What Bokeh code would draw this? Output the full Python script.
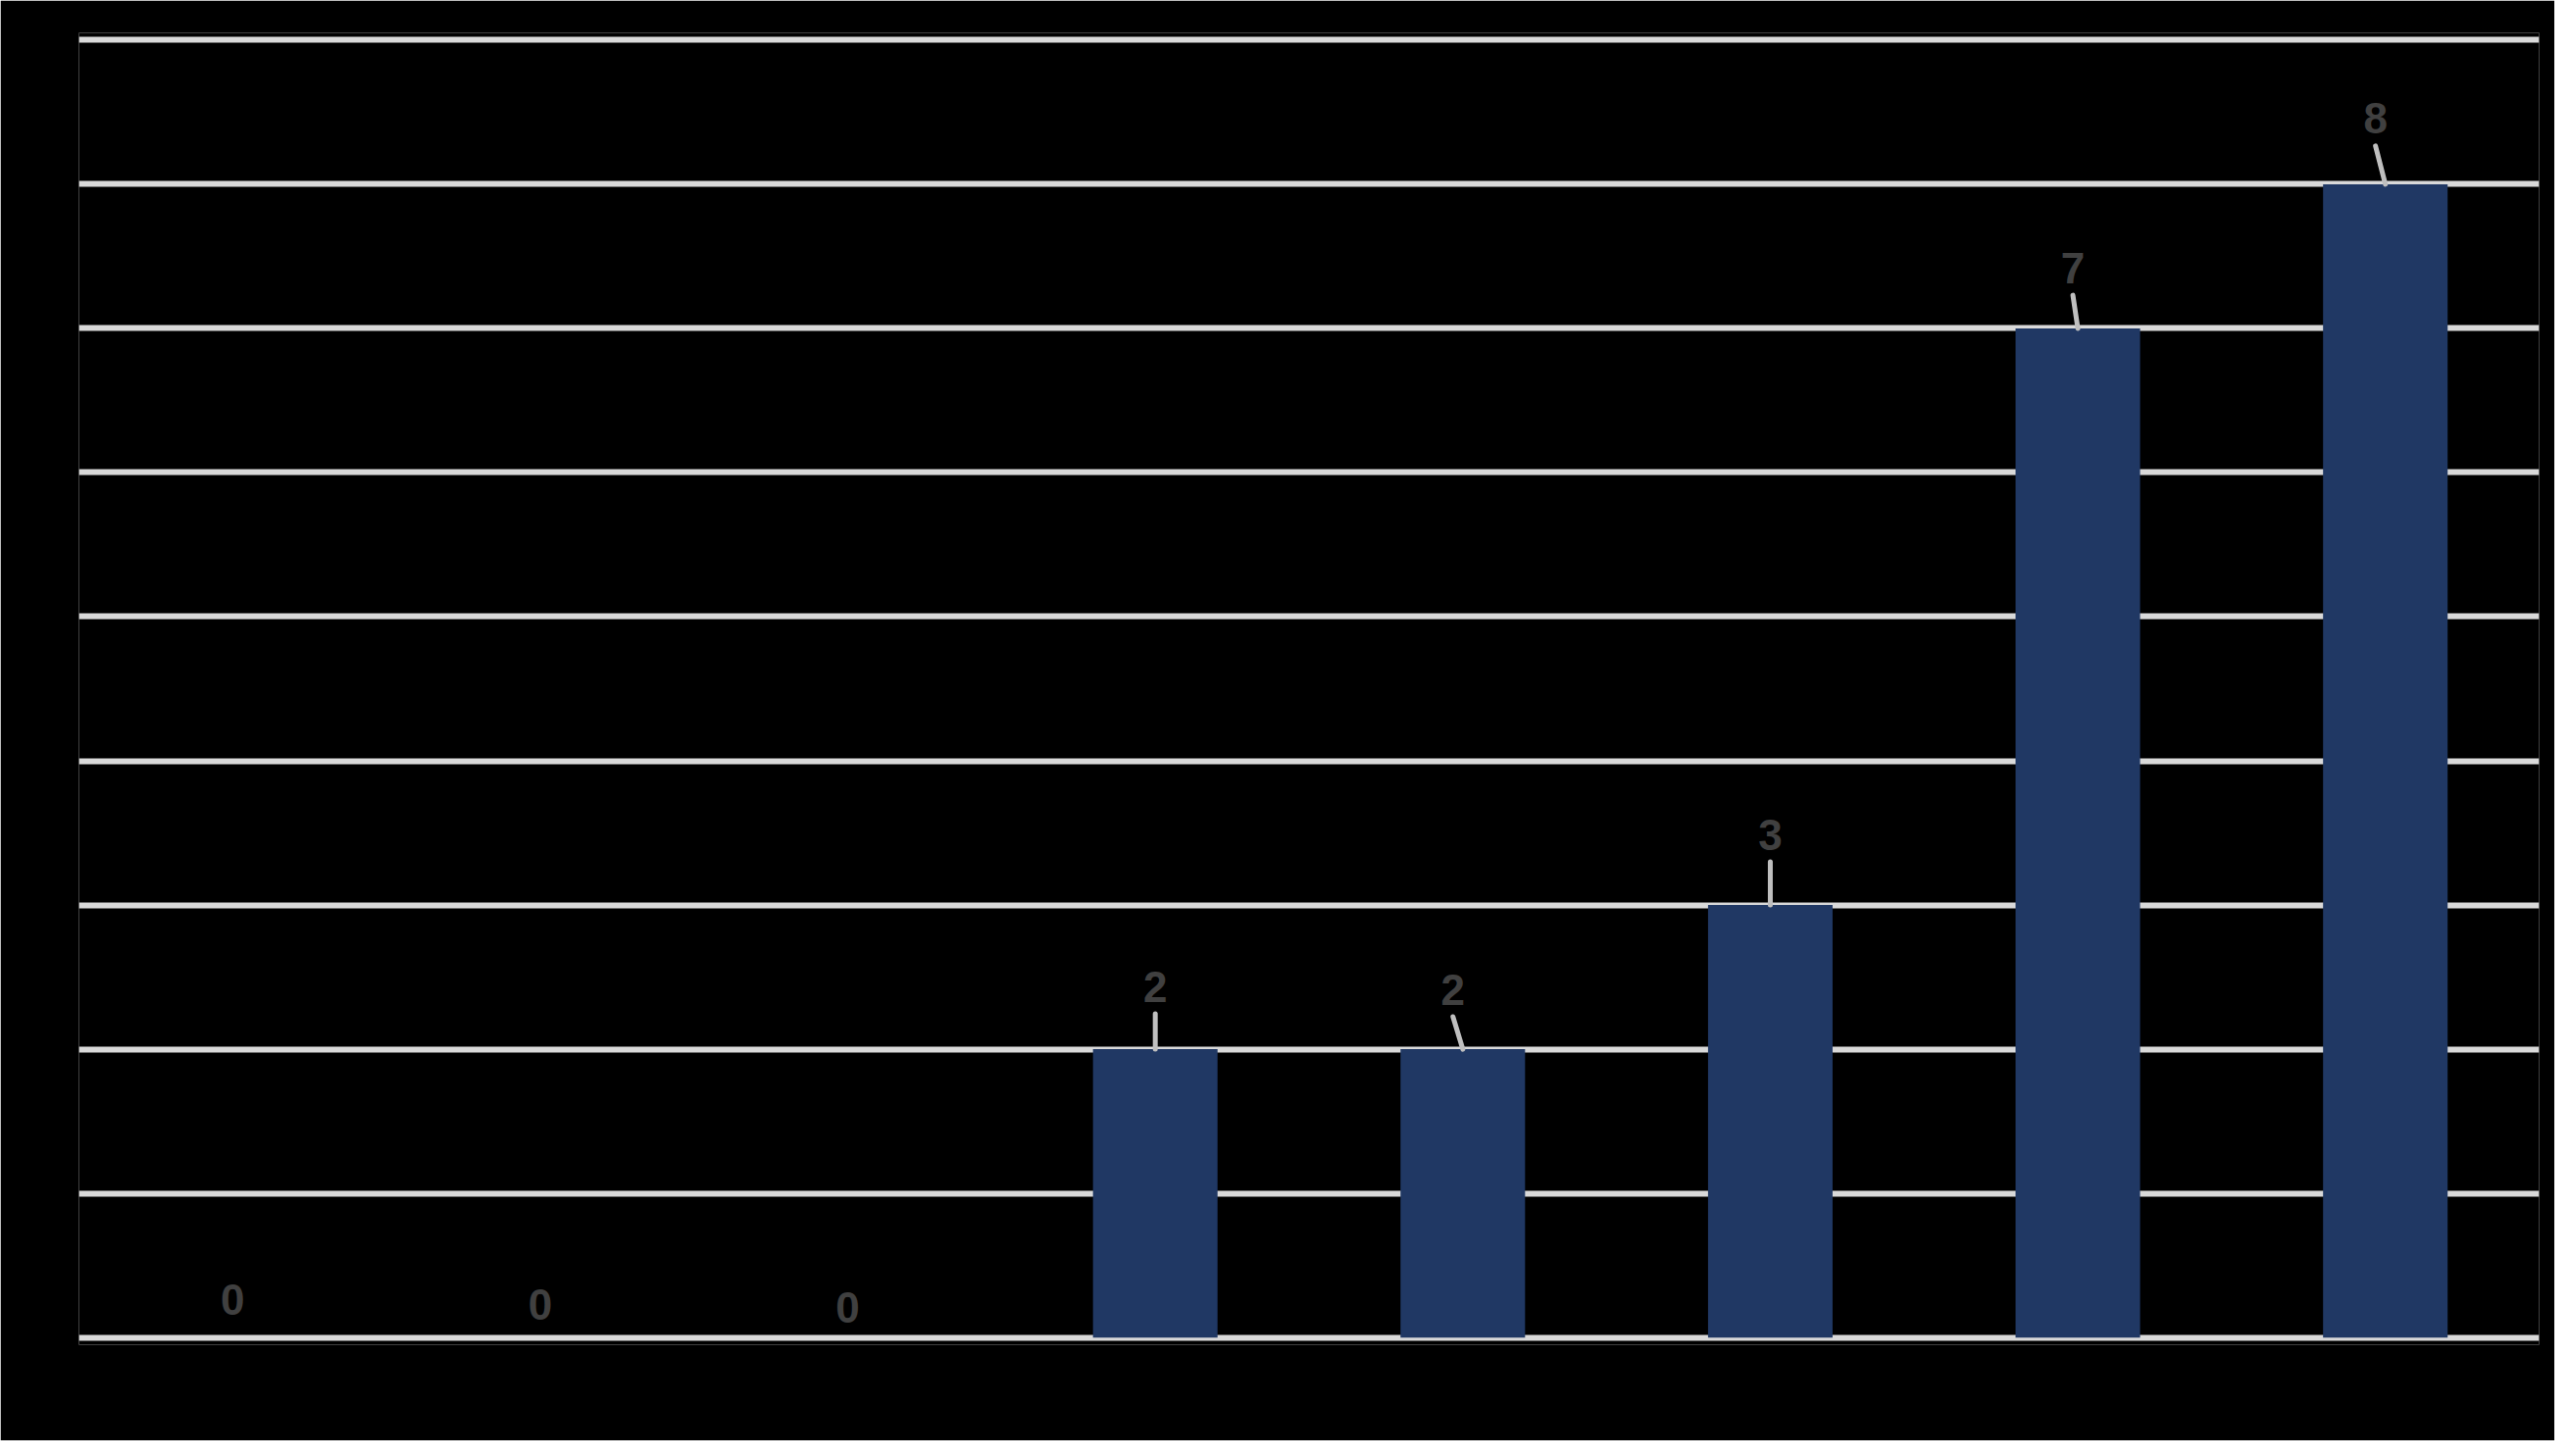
from bokeh.plotting import figure
from bokeh.models import Range1d, ColumnDataSource, FixedTicker
from bokeh.embed import file_html
from bokeh.resources import INLINE
from bokeh.core.properties import value

# ---- data ----
categories = ["1", "2", "3", "4", "5", "6", "7", "8"]
counts = [0, 0, 0, 2, 2, 3, 7, 8]
y_ticks = [0, 1, 2, 3, 4, 5, 6, 7, 8, 9]

# ---- label placement style (data units) ----
label_dx = [0.0, 0.0, 0.0, 0.0, -0.032, 0.0, -0.016, -0.032]
label_dy = [0.265, 0.23, 0.21, 0.435, 0.415, 0.49, 0.42, 0.455]
leader_gap = 0.19

xs = [i + 0.5 for i in range(len(categories))]
lab_x = [x + dx for x, dx in zip(xs, label_dx)]
lab_y = [c + dy for c, dy in zip(counts, label_dy)]

src = ColumnDataSource(dict(x=xs, top=counts, cat=categories,
                            lx=lab_x, ly=lab_y, txt=[str(c) for c in counts]))

lead = dict(x0=[], y0=[], x1=[], y1=[])
for x, c, lx, ly in zip(xs, counts, lab_x, lab_y):
    if c > 0:
        lead["x0"].append(x)
        lead["y0"].append(c)
        lead["x1"].append(lx)
        lead["y1"].append(ly - leader_gap)
lsrc = ColumnDataSource(lead)

p = figure(width=2605, height=1469, output_backend="svg", toolbar_location=None,
           x_range=Range1d(0, len(categories)), y_range=Range1d(-0.05, 9.05),
           min_border_left=80, min_border_right=16, min_border_top=33, min_border_bottom=98)

p.background_fill_color = "black"
p.border_fill_color = "black"
p.outline_line_color = None

p.xaxis.visible = False
p.yaxis.visible = False
p.xgrid.grid_line_color = None
p.ygrid.ticker = FixedTicker(ticks=y_ticks)
p.ygrid.grid_line_color = "#D9D9D9"
p.ygrid.grid_line_width = 6

p.vbar(x="x", top="top", bottom=0, width=0.405, source=src,
       fill_color="#203864", line_color=None)

p.segment(x0="x0", y0="y0", x1="x1", y1="y1", source=lsrc,
          line_color="#BFBFBF", line_width=5, line_cap="round")

p.text(x="lx", y="ly", text="txt", source=src,
       text_font=value("Liberation Sans"), text_font_style="bold",
       text_font_size="44px", text_color="#404040",
       text_align="center", text_baseline="middle")

html = file_html(p, INLINE)
html = html.replace("<body>", '<body style="background-color:black;">', 1)
open("out.html", "w").write(html)
